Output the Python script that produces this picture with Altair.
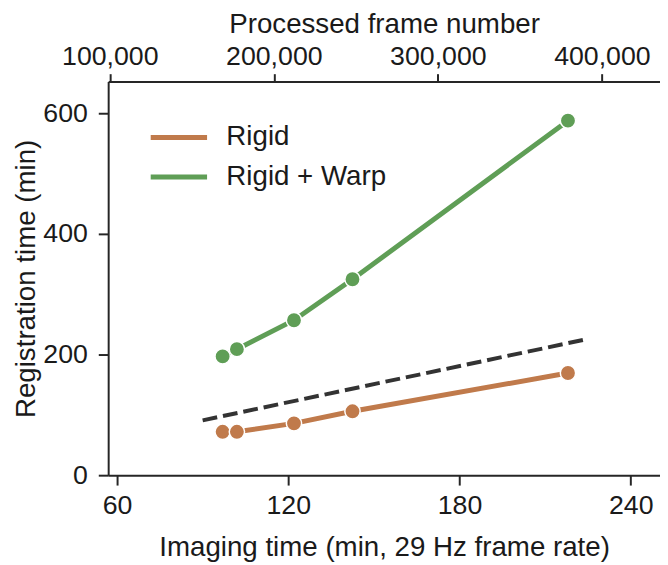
import altair as alt
import pandas as pd

# ---- data ----
imaging_time = [97, 102, 122, 142.5, 218]          # min
rigid_min = [72, 72, 86, 106, 169.5]               # registration time, Rigid
warp_min = [197, 209, 257, 325, 588]               # registration time, Rigid + Warp
series_names = ["Rigid", "Rigid + Warp"]
series_colors = ["#c07a4b", "#5f9e56"]
realtime_x = [90, 225]                             # dashed real-time line
realtime_y = [91, 226]
x_ticks = [60, 120, 180, 240]
y_ticks = [0, 200, 400, 600]
frame_ticks = [100000, 200000, 300000, 400000]
frames_per_min = 29 * 60

W, H = 558, 398
X_MIN = 56.9
X_MAX = X_MIN + W / 2.886
Y_MAX = 652.8

FONT = "Liberation Sans"
FS = 27
TFS = 28
AX = "#262626"

rows = []
for name, vals in zip(series_names, [rigid_min, warp_min]):
    for t, v in zip(imaging_time, vals):
        rows.append({"t": t, "v": v, "series": name})
df = pd.DataFrame(rows)
rt = pd.DataFrame({"t": realtime_x, "v": realtime_y})
top_df = pd.DataFrame({"t": [X_MIN, X_MAX]})

xscale = alt.Scale(domain=[X_MIN, X_MAX], nice=False, zero=False)
yscale = alt.Scale(domain=[0, Y_MAX], nice=False)
color = alt.Color(
    "series:N",
    scale=alt.Scale(domain=series_names, range=series_colors),
    legend=alt.Legend(
        title=None, orient="none", legendX=54.5, legendY=39.5,
        symbolType="M-2,0H2", symbolSize=812, symbolStrokeWidth=5,
        labelOffset=31, labelFontSize=TFS, labelFont=FONT, labelColor="#1a1a1a",
        rowPadding=9, labelLimit=400,
    ),
)

xax = alt.Axis(values=x_ticks, title="Imaging time (min, 29 Hz frame rate)", grid=False,
               tickSize=10, labelPadding=8, titlePadding=15, labelFlush=False)
yax = alt.Axis(values=y_ticks, title="Registration time (min)", grid=False,
               tickSize=10, labelPadding=11, titlePadding=2)

dashed = alt.Chart(rt).mark_line(color="#333333", strokeWidth=4, strokeDash=[15, 6]).encode(
    x=alt.X("t:Q", scale=xscale, axis=xax),
    y=alt.Y("v:Q", scale=yscale, axis=yax),
)
lines = alt.Chart(df).mark_line(strokeWidth=5).encode(
    x=alt.X("t:Q", scale=xscale),
    y=alt.Y("v:Q", scale=yscale),
    color=color,
)
points = alt.Chart(df).mark_circle(size=240, opacity=1, stroke="white", strokeWidth=1.5).encode(
    x=alt.X("t:Q", scale=xscale),
    y=alt.Y("v:Q", scale=yscale),
    color=alt.Color("series:N", scale=alt.Scale(domain=series_names, range=series_colors), legend=None),
)
main = alt.layer(dashed, lines, points)

top = alt.Chart(top_df).transform_calculate(
    frames=f"datum.t * {frames_per_min}"
).mark_point(opacity=0).encode(
    x=alt.X("frames:Q",
            scale=alt.Scale(domain=[X_MIN * frames_per_min, X_MAX * frames_per_min], nice=False, zero=False),
            axis=alt.Axis(orient="top", values=frame_ticks, format=",d", title="Processed frame number",
                          grid=False, tickSize=8, labelPadding=3, titlePadding=5, labelFlush=False)),
    y=alt.value(0),
)

chart = alt.layer(main, top).resolve_scale(x="independent").properties(
    width=W, height=H,
    autosize=alt.AutoSizeParams(type="none"),
    padding={"left": 101.3, "top": 71.3, "right": 0, "bottom": 87.7},
).configure_view(stroke=None).configure_axis(
    labelFont=FONT, titleFont=FONT, labelFontSize=FS, titleFontSize=TFS,
    titleFontWeight="normal", labelColor="#1a1a1a", titleColor="#1a1a1a",
    domainColor=AX, tickColor=AX, domainWidth=2, tickWidth=2,
)

chart.save("out.html", embed_options={"renderer": "svg", "actions": False})
